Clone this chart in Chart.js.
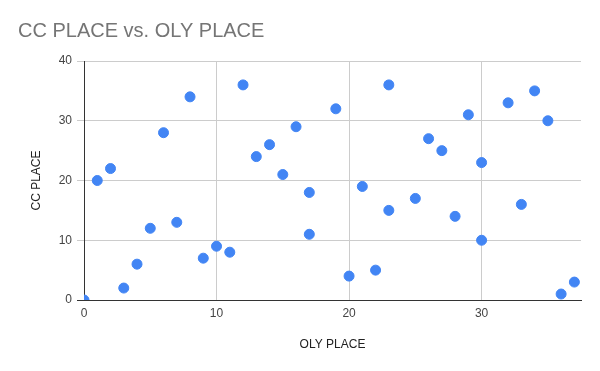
<!DOCTYPE html>
<html>
<head>
<meta charset="utf-8">
<script src="https://cdn.jsdelivr.net/npm/chart.js@4"></script>
<style>
  html, body { margin: 0; padding: 0; background: #fff; }
  #wrap { width: 600px; height: 371px; }
</style>
</head>
<body>
<div id="wrap"><canvas id="chart" width="600" height="371"></canvas></div>
<script>
// ========= data =========
const olyPlace = [0, 1, 2, 3, 4, 5, 6, 7, 8, 9, 10, 11, 12, 13, 14, 15, 16, 17, 17, 19,
                  20, 21, 22, 23, 23, 25, 26, 27, 28, 29, 30, 30, 32, 33, 34, 35, 36, 37];
const ccPlace  = [0, 20, 22, 2, 6, 12, 28, 13, 34, 7, 9, 8, 36, 24, 26, 21, 29, 18, 11, 32,
                  4, 19, 5, 36, 15, 17, 27, 25, 14, 31, 23, 10, 33, 16, 35, 30, 1, 3];
const xTicks = [0, 10, 20, 30];
const yTicks = [0, 10, 20, 30, 40];

const points = olyPlace.map((x, i) => ({ x, y: ccPlace[i] }));

Chart.defaults.font.family = '"Liberation Sans", Arial, sans-serif';

// ========= chart =========
new Chart(document.getElementById('chart'), {
  type: 'scatter',
  data: {
    datasets: [{
      label: 'CC PLACE',
      data: points,
      backgroundColor: '#4285F4',
      borderColor: '#4285F4',
      pointRadius: 5,
      pointHoverRadius: 6
    }]
  },
  options: {
    responsive: false,
    animation: false,
    layout: { padding: { left: 18, right: 19, top: 0, bottom: 15 } },
    plugins: {
      legend: { display: false },
      tooltip: { enabled: false },
      title: {
        display: true,
        text: 'CC PLACE vs. OLY PLACE',
        align: 'start',
        color: '#757575',
        font: { size: 20, weight: 'normal' },
        padding: { top: 19, bottom: 18 }
      }
    },
    scales: {
      x: {
        type: 'linear',
        min: 0,
        max: 37.5,
        afterBuildTicks: s => { s.ticks = xTicks.map(v => ({ value: v })); },
        afterFit: s => { s.height = 56; },
        ticks: { color: '#444', font: { size: 12 }, padding: 6 },
        grid: { color: '#cccccc', drawTicks: false },
        border: { color: '#333333', width: 1 },
        title: { display: true, text: 'OLY PLACE', color: '#222', font: { size: 12 } }
      },
      y: {
        type: 'linear',
        min: 0,
        max: 40,
        afterBuildTicks: s => { s.ticks = yTicks.map(v => ({ value: v })); },
        afterFit: s => { s.width = 66; },
        ticks: { color: '#444', font: { size: 12 }, padding: 5 },
        grid: {
          color: c => (c.tick && c.tick.value === 0 ? '#333333' : '#cccccc'),
          drawTicks: true,
          tickLength: 7
        },
        border: { color: '#333333', width: 1 },
        title: { display: true, text: 'CC PLACE', color: '#222', font: { size: 12 }, padding: { top: 11, bottom: 4 } }
      }
    }
  }
});
</script>
</body>
</html>
